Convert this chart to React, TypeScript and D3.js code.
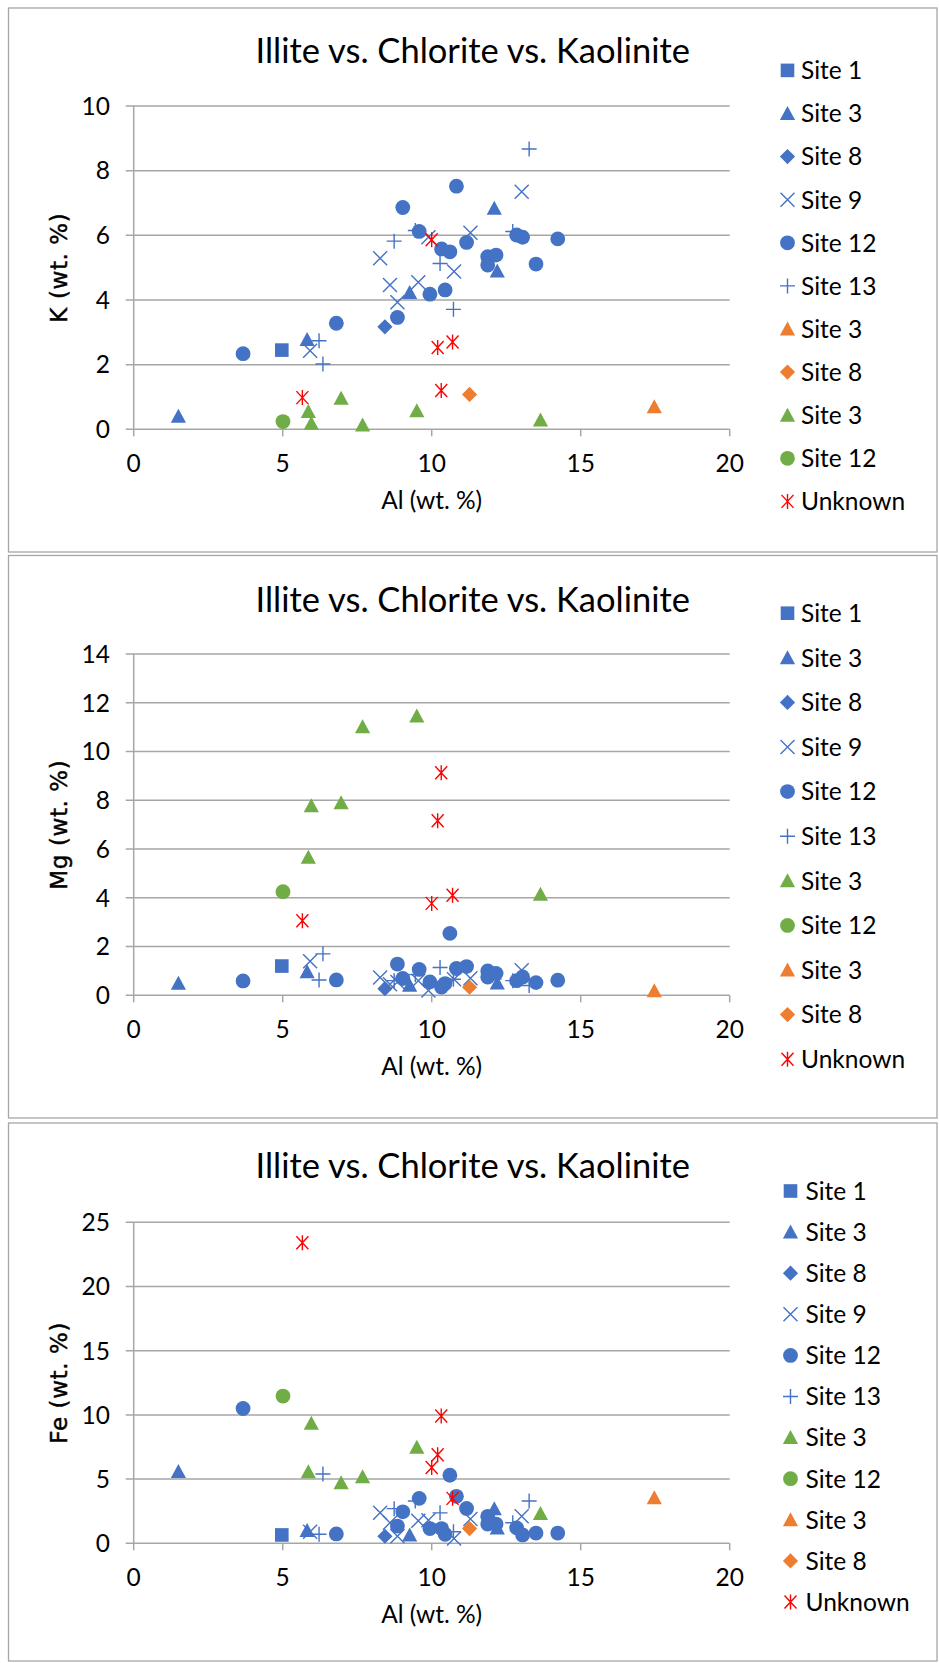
import React from "react";
import * as d3 from "d3";

// Each row: [Al, K, Mg, Fe] in wt. %
type Row = [number, number, number, number];

const site1Blue: Row[] = [[4.97, 2.45, 1.2, 0.65]];

const site3Blue: Row[] = [
  [1.5, 0.4, 0.49, 5.6],
  [5.82, 2.78, 0.97, 1.0],
  [9.26, 4.23, 0.41, 0.64],
  [12.1, 6.84, 0.9, 2.7],
  [12.2, 4.9, 0.5, 1.2],
];

const site8Blue: Row[] = [[8.43, 3.17, 0.27, 0.55]];

const site9Blue: Row[] = [
  [5.92, 2.43, 1.4, 0.9],
  [8.27, 5.29, 0.73, 2.37],
  [8.6, 4.46, 0.45, 1.6],
  [8.85, 3.93, 0.55, 0.55],
  [9.55, 4.55, 0.6, 1.75],
  [9.89, 5.94, 0.2, 1.8],
  [10.75, 4.88, 0.66, 0.37],
  [11.3, 6.08, 0.7, 1.9],
  [13.02, 7.35, 1.03, 2.1],
];

const site12Blue: Row[] = [
  [3.67, 2.34, 0.59, 10.5],
  [6.8, 3.28, 0.63, 0.73],
  [8.85, 3.46, 1.28, 1.34],
  [9.03, 6.86, 0.69, 2.45],
  [9.58, 6.12, 1.06, 3.5],
  [9.94, 4.18, 0.55, 1.15],
  [10.45, 4.31, 0.48, 0.7],
  [10.33, 5.58, 0.34, 1.15],
  [10.61, 5.49, 2.54, 5.3],
  [10.83, 7.52, 1.1, 3.66],
  [11.17, 5.78, 1.18, 2.71],
  [11.88, 5.34, 1.0, 2.1],
  [11.88, 5.08, 0.75, 1.5],
  [12.16, 5.39, 0.9, 1.5],
  [12.85, 6.01, 0.6, 1.2],
  [13.05, 5.94, 0.75, 0.65],
  [13.5, 5.11, 0.52, 0.8],
  [14.23, 5.89, 0.62, 0.8],
];

const site13Blue: Row[] = [
  [6.22, 2.74, 0.63, 0.7],
  [6.35, 2.02, 1.7, 5.4],
  [8.74, 5.82, 0.6, 2.7],
  [9.45, 6.15, 0.85, 3.3],
  [10.28, 5.13, 1.14, 2.37],
  [10.73, 3.71, 0.66, 0.9],
  [12.72, 6.12, 0.6, 1.6],
  [13.27, 8.67, 0.4, 3.3],
];

const site3Orange: Row[] = [[17.47, 0.7, 0.19, 3.55]];
const site8Orange: Row[] = [[11.27, 1.08, 0.33, 1.15]];

const site3Green: Row[] = [
  [5.86, 0.55, 5.66, 5.58],
  [5.96, 0.19, 7.78, 9.35],
  [6.96, 0.96, 7.9, 4.72],
  [7.68, 0.13, 11.02, 5.19],
  [9.5, 0.57, 11.46, 7.48],
  [13.65, 0.29, 4.14, 2.32],
];

const site12Green: Row[] = [[5.01, 0.24, 4.25, 11.47]];

const unknownRows: Row[] = [
  [5.66, 0.98, 3.06, 23.4],
  [10.0, 5.86, 3.77, 5.9],
  [10.2, 2.53, 7.16, 6.9],
  [10.32, 1.2, 9.13, 9.92],
  [10.7, 2.7, 4.1, 3.5],
];

const xTicks = [0, 5, 10, 15, 20];
const chartTitle = "Illite vs. Chlorite vs. Kaolinite";
const xTitle = "Al (wt. %)";

type Shape = "square" | "triangle" | "diamond" | "x" | "circle" | "plus" | "star";
interface Series {
  key: string;
  name: string;
  color: string;
  shape: Shape;
  rows: Row[];
}

const BLUE = "#4472C4";
const ORANGE = "#ED7D31";
const GREEN = "#70AD47";
const RED = "#FF0000";

const series: Record<string, Series> = {
  s1: { key: "s1", name: "Site 1", color: BLUE, shape: "square", rows: site1Blue },
  s3: { key: "s3", name: "Site 3", color: BLUE, shape: "triangle", rows: site3Blue },
  s8: { key: "s8", name: "Site 8", color: BLUE, shape: "diamond", rows: site8Blue },
  s9: { key: "s9", name: "Site 9", color: BLUE, shape: "x", rows: site9Blue },
  s12: { key: "s12", name: "Site 12", color: BLUE, shape: "circle", rows: site12Blue },
  s13: { key: "s13", name: "Site 13", color: BLUE, shape: "plus", rows: site13Blue },
  s3o: { key: "s3o", name: "Site 3", color: ORANGE, shape: "triangle", rows: site3Orange },
  s8o: { key: "s8o", name: "Site 8", color: ORANGE, shape: "diamond", rows: site8Orange },
  s3g: { key: "s3g", name: "Site 3", color: GREEN, shape: "triangle", rows: site3Green },
  s12g: { key: "s12g", name: "Site 12", color: GREEN, shape: "circle", rows: site12Green },
  unk: { key: "unk", name: "Unknown", color: RED, shape: "star", rows: unknownRows },
};

const legendOrderA = ["s1", "s3", "s8", "s9", "s12", "s13", "s3o", "s8o", "s3g", "s12g", "unk"];
const legendOrderB = ["s1", "s3", "s8", "s9", "s12", "s13", "s3g", "s12g", "s3o", "s8o", "unk"];
const drawOrder = ["s1", "s3", "s8", "s9", "s13", "s12", "s3o", "s8o", "s3g", "s12g", "unk"];

interface Panel {
  col: 1 | 2 | 3;
  yLabel: string;
  yMax: number;
  yStep: number;
  frameTop: number;
  frameBottom: number;
  plotTop: number;
  plotBottom: number;
  titleBaseline: number;
  legendTop: number;
  legendStep: number;
  legendMarkerX: number;
  legendTextX: number;
  legendOrder: string[];
}

const panels: Panel[] = [
  {
    col: 1, yLabel: "K (wt. %)", yMax: 10, yStep: 2,
    frameTop: 8, frameBottom: 552, plotTop: 106, plotBottom: 429.3,
    titleBaseline: 63, legendTop: 70.4, legendStep: 43.1,
    legendMarkerX: 787.5, legendTextX: 801, legendOrder: legendOrderA,
  },
  {
    col: 2, yLabel: "Mg (wt. %)", yMax: 14, yStep: 2,
    frameTop: 555.5, frameBottom: 1118, plotTop: 654, plotBottom: 995.3,
    titleBaseline: 612, legendTop: 613.2, legendStep: 44.6,
    legendMarkerX: 787.5, legendTextX: 801, legendOrder: legendOrderB,
  },
  {
    col: 3, yLabel: "Fe (wt. %)", yMax: 25, yStep: 5,
    frameTop: 1123, frameBottom: 1661, plotTop: 1222.3, plotBottom: 1543.3,
    titleBaseline: 1178, legendTop: 1191, legendStep: 41.1,
    legendMarkerX: 790.5, legendTextX: 805.5, legendOrder: legendOrderB,
  },
];

const PLOT_LEFT = 133.7;
const PLOT_RIGHT = 729.7;
const FRAME_LEFT = 8.5;
const FRAME_RIGHT = 937;
const GRID = "#A6A6A6";
const FONT = "Lato, 'Open Sans', sans-serif";

function Marker({ shape, color, x, y }: { shape: Shape; color: string; x: number; y: number }) {
  const sw = 1.4;
  switch (shape) {
    case "square":
      return <rect x={x - 6.8} y={y - 6.8} width={13.6} height={13.6} fill={color} />;
    case "triangle":
      return <path d={`M${x},${y - 7.5}L${x + 7.6},${y + 6.5}L${x - 7.6},${y + 6.5}Z`} fill={color} />;
    case "diamond":
      return <path d={`M${x},${y - 7.6}L${x + 7.6},${y}L${x},${y + 7.6}L${x - 7.6},${y}Z`} fill={color} />;
    case "circle":
      return <circle cx={x} cy={y} r={7.4} fill={color} />;
    case "x":
      return (
        <path
          d={`M${x - 7},${y - 7}L${x + 7},${y + 7}M${x - 7},${y + 7}L${x + 7},${y - 7}`}
          stroke={color}
          strokeWidth={sw}
          fill="none"
        />
      );
    case "plus":
      return (
        <path
          d={`M${x - 7.5},${y}L${x + 7.5},${y}M${x},${y - 7.5}L${x},${y + 7.5}`}
          stroke={color}
          strokeWidth={sw}
          fill="none"
        />
      );
    case "star":
      return (
        <path
          d={`M${x - 6},${y - 6.5}L${x + 6},${y + 6.5}M${x - 6},${y + 6.5}L${x + 6},${y - 6.5}M${x},${y - 7.5}L${x},${y + 7.5}`}
          stroke={color}
          strokeWidth={sw}
          fill="none"
        />
      );
  }
  return null;
}

function ChartPanel({ p }: { p: Panel }) {
  const x = d3.scaleLinear().domain([0, 20]).range([PLOT_LEFT, PLOT_RIGHT]);
  const y = d3.scaleLinear().domain([0, p.yMax]).range([p.plotBottom, p.plotTop]);
  const yTicks = d3.range(0, p.yMax + p.yStep / 2, p.yStep);
  const fs = 24.5;
  const plotMidY = (p.plotTop + p.plotBottom) / 2;
  const plotMidX = (PLOT_LEFT + PLOT_RIGHT) / 2;

  return (
    <g>
      <rect
        x={FRAME_LEFT}
        y={p.frameTop}
        width={FRAME_RIGHT - FRAME_LEFT}
        height={p.frameBottom - p.frameTop}
        fill="#fff"
        stroke="#A6A6A6"
        strokeWidth={1.3}
      />
      <text
        x={(FRAME_LEFT + FRAME_RIGHT) / 2}
        y={p.titleBaseline}
        textAnchor="middle"
        fontFamily={FONT}
        fontSize={34.5}
        fill="#000"
      >
        {chartTitle}
      </text>

      {/* gridlines and y ticks */}
      {yTicks.map((t) => (
        <g key={`gy${t}`}>
          <line x1={PLOT_LEFT - 8} x2={PLOT_RIGHT} y1={y(t)} y2={y(t)} stroke={GRID} strokeWidth={1.5} />
          <text
            x={110}
            y={y(t) + fs * 0.36}
            textAnchor="end"
            fontFamily={FONT}
            fontSize={fs}
            fill="#000"
          >
            {t}
          </text>
        </g>
      ))}
      <line x1={PLOT_LEFT} x2={PLOT_LEFT} y1={p.plotTop} y2={p.plotBottom} stroke={GRID} strokeWidth={1.5} />
      {xTicks.map((t) => (
        <g key={`gx${t}`}>
          <line x1={x(t)} x2={x(t)} y1={p.plotBottom} y2={p.plotBottom + 7} stroke={GRID} strokeWidth={1.5} />
          <text
            x={x(t)}
            y={p.plotBottom + 43}
            textAnchor="middle"
            fontFamily={FONT}
            fontSize={fs}
            fill="#000"
          >
            {t}
          </text>
        </g>
      ))}

      <text
        x={plotMidX}
        y={p.plotBottom + 80}
        textAnchor="middle"
        fontFamily={FONT}
        fontSize={fs}
        fill="#000"
      >
        {xTitle}
      </text>
      <text
        transform={`translate(59,${plotMidY}) rotate(-90)`}
        textAnchor="middle"
        dominantBaseline="central"
        fontFamily="'DejaVu Sans', sans-serif"
        fontSize={23}
        letterSpacing={0.6}
        fill="#000"
        stroke="#000"
        strokeWidth={0.45}
      >
        {p.yLabel}
      </text>

      {/* data points */}
      {drawOrder.map((k) => {
        const s = series[k];
        return (
          <g key={k}>
            {s.rows.map((r, i) => (
              <Marker key={i} shape={s.shape} color={s.color} x={x(r[0])} y={y(r[p.col])} />
            ))}
          </g>
        );
      })}

      {/* legend */}
      {p.legendOrder.map((k, i) => {
        const s = series[k];
        const ly = p.legendTop + i * p.legendStep;
        return (
          <g key={`lg${k}`}>
            <Marker shape={s.shape} color={s.color} x={p.legendMarkerX} y={ly} />
            <text
              x={p.legendTextX}
              y={ly + fs * 0.36}
              fontFamily={FONT}
              fontSize={fs}
              fill="#000"
            >
              {s.name}
            </text>
          </g>
        );
      })}
    </g>
  );
}

export default function App() {
  return (
    <svg
      width={939}
      height={1663}
      viewBox="0 0 939 1663"
      style={{ position: "absolute", left: 0, top: 0, background: "#fff" }}
    >
      <rect x={0} y={0} width={939} height={1663} fill="#fff" />
      {panels.map((p) => (
        <ChartPanel key={p.col} p={p} />
      ))}
    </svg>
  );
}
